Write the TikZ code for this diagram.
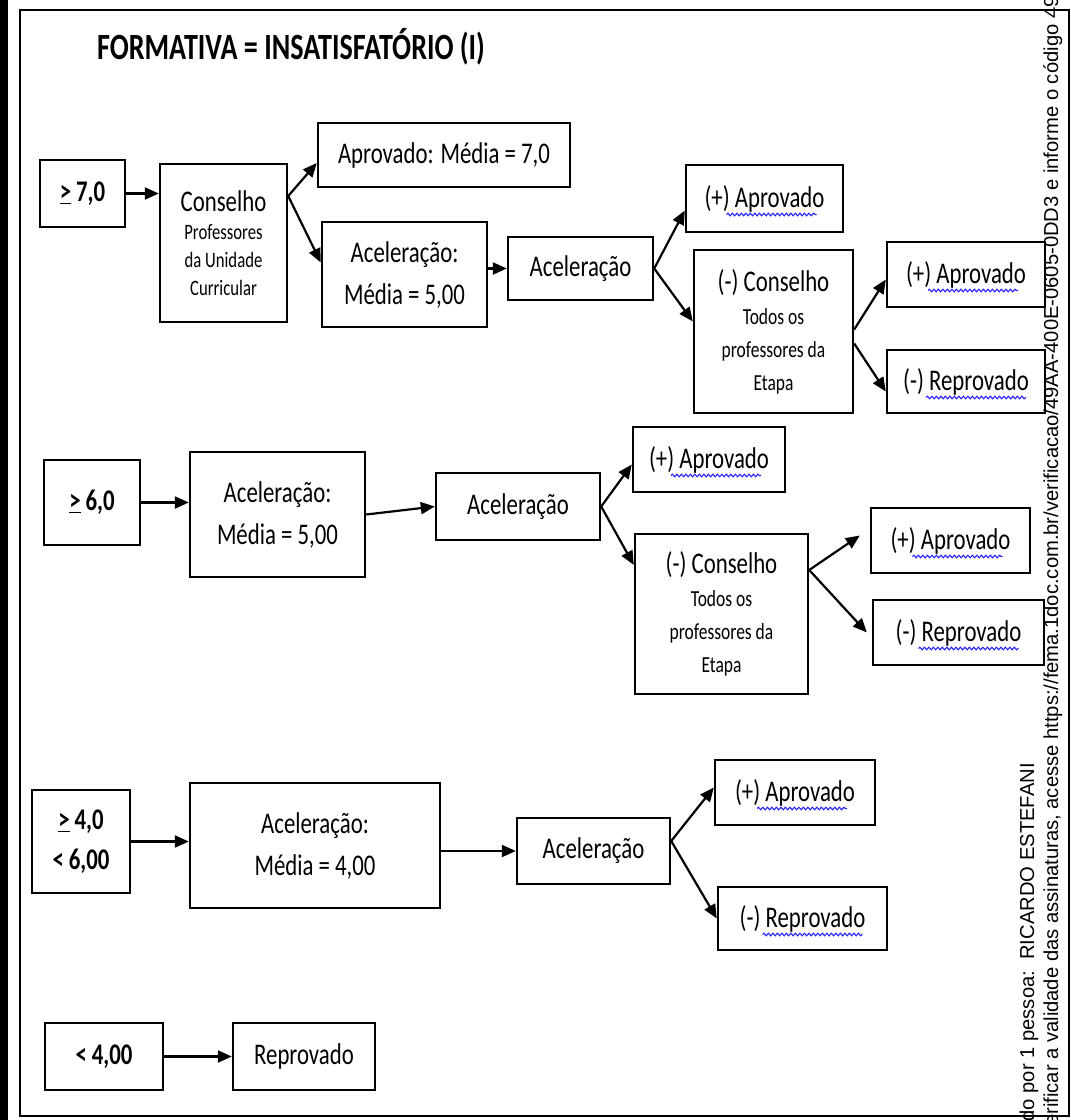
\documentclass[tikz,border=0pt]{standalone}
\usepackage{fontspec}
\setmainfont{Carlito}[FakeStretch=0.76]
\newfontfamily\wmfont{Liberation Sans}
\usetikzlibrary{arrows.meta,calc,decorations.pathmorphing}
\begin{document}
\begin{tikzpicture}[x=1pt,y=-1pt,
  box/.style={draw, line width=2.4pt, inner sep=2pt, align=center, font=\fontsize{30}{42}\selectfont},
  bbox/.style={box, font=\fontsize{30}{40}\selectfont\bfseries},
  smallbox/.style={box, font=\fontsize{23}{33}\selectfont},
  arr/.style={line width=2.2pt, -{Triangle[length=14pt,width=12pt]}},
  squig/.style={draw=blue!85!white, line width=1.1pt, decorate, decoration={snake, amplitude=1.3pt, segment length=4.5pt}},
  wm/.style={font=\wmfont\fontsize{20.2}{20}\selectfont, inner sep=0pt, rotate=90}
]
\path[use as bounding box] (0,0) rectangle (1071,1120);
\clip (0,0) rectangle (1071,1120);
\fill[white] (0,0) rectangle (1071,1120);
\fill[black] (0,0) rectangle (8,1120);
\draw[line width=1.8pt] (20,10) rectangle (1069,1116);

\node[font=\fontsize{37}{40}\selectfont\bfseries] (title) at (291,47) {FORMATIVA = INSATISFATÓRIO (I)};

% Row 1
\node[bbox, minimum width=85pt, minimum height=67pt] (ge7) at (82.5,193.5) {\underline{>}\,7,0};
\node[smallbox, font=\fontsize{22}{28}\selectfont, minimum width=127pt, minimum height=158pt] (cons) at (223.5,243) {{\fontsize{30}{36}\selectfont Conselho}\\Professores\\da Unidade\\Curricular};
\node[box, minimum width=252pt, minimum height=64pt] (aprov7) at (444,155) {Aprovado: Média = 7,0};
\node[box, minimum width=165pt, minimum height=105pt] (acel5a) at (404.5,274.5) {Aceleração:\\Média = 5,00};
\node[box, minimum width=145pt, minimum height=63pt] (acela) at (580.5,268.5) {Aceleração};
\node[box, minimum width=157pt, minimum height=67pt] (apA1) at (764.5,198.5) {(+) Aprovado};
\node[smallbox, minimum width=159pt, minimum height=163pt] (consA) at (773.5,331.5) {{\fontsize{30}{36}\selectfont (-) Conselho}\\Todos os\\professores da\\Etapa};
\node[box, minimum width=158pt, minimum height=65pt] (apA2) at (966,274.5) {(+) Aprovado};
\node[box, minimum width=158pt, minimum height=63pt] (repA) at (966,381.5) {(-) Reprovado};

\draw[arr] (ge7.east) -- (ge7.east -| cons.west);
\coordinate (s1) at ($(cons.east)+(0,-47)$);
\draw[arr] (s1) -- ($(aprov7.west)+(0,8)$);
\draw[arr] (s1) -- ($(acel5a.west)+(0,-12)$);
\draw[arr] (acela.west -| acel5a.east) -- (acela.west);
\draw[arr] (acela.east) -- ($(apA1.west)+(0,12)$);
\draw[arr] (acela.east) -- ($(consA.west)+(0,-10)$);
\draw[arr] ($(consA.east)+(0,-2)$) -- ($(apA2.west)+(0,5)$);
\draw[arr] ($(consA.east)+(0,12)$) -- ($(repA.west)+(0,10)$);

% Row 2
\node[bbox, minimum width=96pt, minimum height=85pt] (ge6) at (92,502.5) {\underline{>}\,6,0};
\node[box, minimum width=175pt, minimum height=125pt] (acel5b) at (277.5,514.5) {Aceleração:\\Média = 5,00};
\node[box, minimum width=164pt, minimum height=67pt] (acelb) at (518,506.5) {Aceleração};
\node[box, minimum width=152pt, minimum height=65pt] (apB1) at (709,459.5) {(+) Aprovado};
\node[smallbox, minimum width=173pt, minimum height=160pt] (consB) at (721.5,614) {{\fontsize{30}{36}\selectfont (-) Conselho}\\Todos os\\professores da\\Etapa};
\node[box, minimum width=159pt, minimum height=65pt] (apB2) at (950.5,540.5) {(+) Aprovado};
\node[box, minimum width=171pt, minimum height=65pt] (repB) at (958.5,632.5) {(-) Reprovado};

\draw[arr] (ge6.east) -- (ge6.east -| acel5b.west);
\draw[arr] (acel5b.east) -- (acelb.west);
\draw[arr] (acelb.east) -- ($(apB1.west)+(0,5)$);
\draw[arr] (acelb.east) -- ($(consB.west)+(0,-49)$);
\coordinate (s2) at ($(consB.east)+(0,-44)$);
\draw[arr] (s2) -- ($(apB2.west)+(-10,-5)$);
\draw[arr] (s2) -- ($(repB.west)+(-5,0)$);

% Row 3
\node[bbox, minimum width=98pt, minimum height=103pt] (ge4) at (81,841.5) {\underline{>}\,4,0\\<\,6,00};
\node[box, minimum width=250pt, minimum height=125pt] (acel4) at (315,845.5) {Aceleração:\\Média = 4,00};
\node[box, minimum width=153pt, minimum height=66pt] (acelc) at (593.5,851) {Aceleração};
\node[box, minimum width=160pt, minimum height=65pt] (apC) at (795,792.5) {(+) Aprovado};
\node[box, minimum width=169pt, minimum height=63pt] (repC) at (802.5,918.5) {(-) Reprovado};

\draw[arr] (ge4.east) -- (ge4.east -| acel4.west);
\draw[arr] (acelc.west -| acel4.east) -- (acelc.west);
\coordinate (s3) at ($(acelc.east)+(0,-10)$);
\draw[arr] (s3) -- ($(apC.west)+(0,-5)$);
\draw[arr] (s3) -- (repC.west);

% Row 4
\node[bbox, minimum width=118pt, minimum height=67pt] (lt4) at (104,1056.5) {<\,4,00};
\node[box, minimum width=142pt, minimum height=67pt] (rep) at (304,1056.5) {Reprovado};
\draw[arr] (lt4.east) -- (rep.west);

% spell-check squiggles
\foreach \n in {apA1,apA2,apB1,apB2,apC}{
  \draw[squig] ($(\n.center)+(-38,16)$) -- ($(\n.center)+(52,16)$);
}
\foreach \n in {repA,repB,repC}{
  \draw[squig] ($(\n.center)+(-40,16)$) -- ($(\n.center)+(60,16)$);
}

% watermark
\node[wm, anchor=base east] (wm1) at (1034,763) {do por 1 pessoa:\ \ RICARDO ESTEFANI};
\node[wm, anchor=base west] (wm2) at (1058,1126) {erificar a validade das assinaturas, acesse https://fema.1doc.com.br/verificacao/49AA-400E-0605-0DD3 e informe o código 49};
\end{tikzpicture}
\end{document}
